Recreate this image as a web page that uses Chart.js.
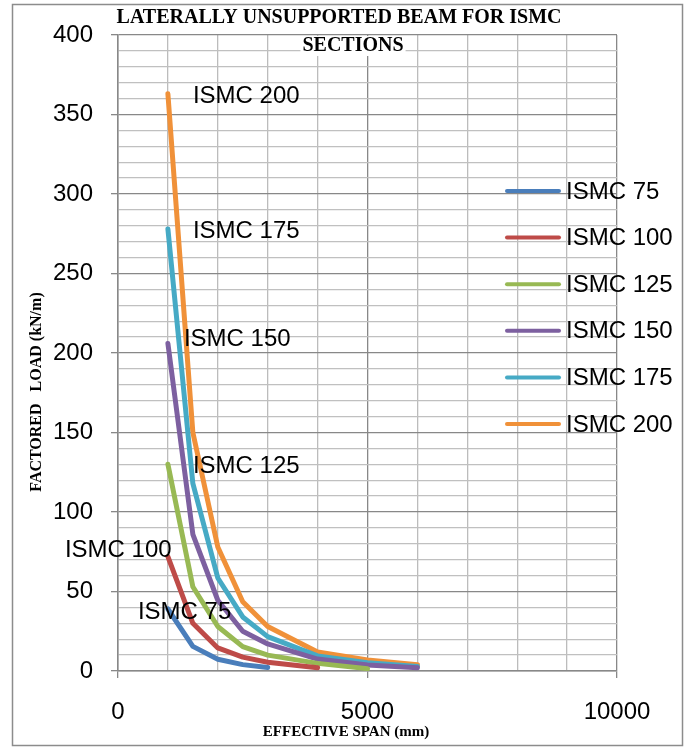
<!DOCTYPE html>
<html>
<head>
<meta charset="utf-8">
<script src="https://cdn.jsdelivr.net/npm/chart.js@4.4.0/dist/chart.umd.min.js"></script>
<style>
    html, body { margin: 0; padding: 0; background: #fff; }
</style>
</head>
<body>
<canvas id="chart" width="689" height="747"></canvas>
<script>
// effective span (mm) and factored load (kN/m)
var spans = [1000, 1500, 2000, 2500, 3000, 4000, 5000, 6000];
var sectionNames = ["ISMC 75", "ISMC 100", "ISMC 125", "ISMC 150", "ISMC 175", "ISMC 200"];
var ismc75 = [39, 15.5, 7.4, 4, 2.2];
var ismc100 = [72, 30, 14.5, 8.7, 5.5, 2];
var ismc125 = [130, 53, 28, 15.3, 10, 4.8, 1.5];
var ismc150 = [206, 86, 44.5, 25, 17, 7.5, 3.8, 2];
var ismc175 = [278, 118, 58.5, 34, 21.6, 9.5, 5.2, 2.8];
var ismc200 = [363, 150, 78, 43.6, 28, 12, 7, 4];
var xTickLabels = [0, 5000, 10000];
var yTickLabels = [0, 50, 100, 150, 200, 250, 300, 350, 400];

var colors = ["#4a7ebb", "#be4b48", "#98b954", "#7d60a0", "#46aac5", "#f09139"];
// where each section name sits, relative to its first point
var labelNudge = [[-30, 3], [-103, -6], [25, 2], [16, -4], [25, 2], [25, 3]];

var SANS = "'Liberation Sans', Arial, sans-serif";
var SERIF = "'Liberation Serif', 'Times New Roman', serif";

function toPoints(values) {
    return values.map(function (v, i) {
        return {x: spans[i], y: v};
    });
}

var series = [ismc75, ismc100, ismc125, ismc150, ismc175, ismc200];
var datasets = series.map(function (values, i) {
    return {
        label: sectionNames[i],
        data: toPoints(values),
        borderColor: colors[i],
        backgroundColor: colors[i],
        borderWidth: 5,
        borderCapStyle: 'round',
        borderJoinStyle: 'round',
        pointRadius: 0,
        tension: 0
    };
});

var decorations = {
    id: 'decorations',
    beforeDraw: function (chart) {
        var ctx = chart.ctx;
        ctx.save();
        ctx.fillStyle = '#fff';
        ctx.fillRect(0, 0, chart.width, chart.height);
        ctx.restore();
    },
    afterDatasetsDraw: function (chart) {
        var ctx = chart.ctx;
        ctx.save();

        // section names next to the first point of each curve
        ctx.font = "24px " + SANS;
        ctx.fillStyle = '#000';
        ctx.textBaseline = 'middle';
        ctx.textAlign = 'left';
        chart.data.datasets.forEach(function (ds, i) {
            var pt = chart.getDatasetMeta(i).data[0];
            ctx.fillText(ds.label, pt.x + labelNudge[i][0], pt.y + labelNudge[i][1]);
        });

        // legend
        chart.data.datasets.forEach(function (ds, i) {
            var y = 191 + i * 46.6;
            ctx.strokeStyle = ds.borderColor;
            ctx.lineWidth = 4;
            ctx.lineCap = 'round';
            ctx.beginPath();
            ctx.moveTo(507, y);
            ctx.lineTo(559, y);
            ctx.stroke();
            ctx.fillText(ds.label, 566, y + 1);
        });

        // chart title, white box behind each line
        ctx.font = "bold 20px " + SERIF;
        ctx.textAlign = 'center';
        var lines = [["LATERALLY UNSUPPORTED BEAM FOR ISMC", 339, 18], ["SECTIONS", 353, 46]];
        lines.forEach(function (l) {
            var w = ctx.measureText(l[0]).width;
            ctx.fillStyle = '#fff';
            ctx.fillRect(l[1] - w / 2 - 2, l[2] - 10, w + 4, 20);
            ctx.fillStyle = '#000';
            ctx.fillText(l[0], l[1], l[2]);
        });

        // axis titles
        ctx.font = "bold 15px " + SERIF;
        ctx.fillText("EFFECTIVE SPAN (mm)", 346, 732);
        ctx.font = "bold 16px " + SERIF;
        ctx.translate(37, 392);
        ctx.rotate(-Math.PI / 2);
        ctx.fillText("FACTORED   LOAD (kN/m)", 0, 0);
        ctx.restore();

        // outer frame
        ctx.save();
        ctx.strokeStyle = '#8c8c8c';
        ctx.lineWidth = 1.5;
        ctx.strokeRect(12.5, 4.5, 670, 741);
        ctx.restore();
    }
};

new Chart(document.getElementById('chart'), {
    type: 'line',
    data: {datasets: datasets},
    options: {
        responsive: false,
        animation: false,
        devicePixelRatio: 1,
        layout: {padding: {left: 0, right: 72, top: 35, bottom: 0}},
        plugins: {
            legend: {display: false},
            tooltip: {enabled: false}
        },
        scales: {
            x: {
                type: 'linear',
                min: 0,
                max: 10000,
                afterFit: function (scale) { scale.height = 76; },
                ticks: {
                    stepSize: 1000,
                    autoSkip: false,
                    maxRotation: 0,
                    padding: 20,
                    color: '#000',
                    font: {family: SANS, size: 24},
                    callback: function (v) {
                        return xTickLabels.indexOf(v) >= 0 ? String(v) : '';
                    }
                },
                grid: {
                    lineWidth: 1.3,
                    tickLength: 7,
                    color: function (c) {
                        return xTickLabels.indexOf(c.tick.value) >= 0 ? '#888888' : '#bcbcbc';
                    },
                    tickColor: function (c) {
                        return xTickLabels.indexOf(c.tick.value) >= 0 ? '#888888' : 'rgba(0,0,0,0)';
                    }
                },
                border: {color: '#888888', width: 1.5}
            },
            y: {
                min: 0,
                max: 400,
                afterFit: function (scale) { scale.width = 118; },
                ticks: {
                    stepSize: 10,
                    autoSkip: false,
                    padding: 18,
                    color: '#000',
                    font: {family: SANS, size: 24},
                    callback: function (v) {
                        return yTickLabels.indexOf(v) >= 0 ? String(v) : '';
                    }
                },
                grid: {
                    lineWidth: 1.3,
                    tickLength: 7,
                    color: function (c) {
                        return yTickLabels.indexOf(c.tick.value) >= 0 ? '#888888' : '#c0c0c0';
                    },
                    tickColor: function (c) {
                        return yTickLabels.indexOf(c.tick.value) >= 0 ? '#888888' : 'rgba(0,0,0,0)';
                    }
                },
                border: {color: '#888888', width: 1.5}
            }
        }
    },
    plugins: [decorations]
});
</script>
</body>
</html>
